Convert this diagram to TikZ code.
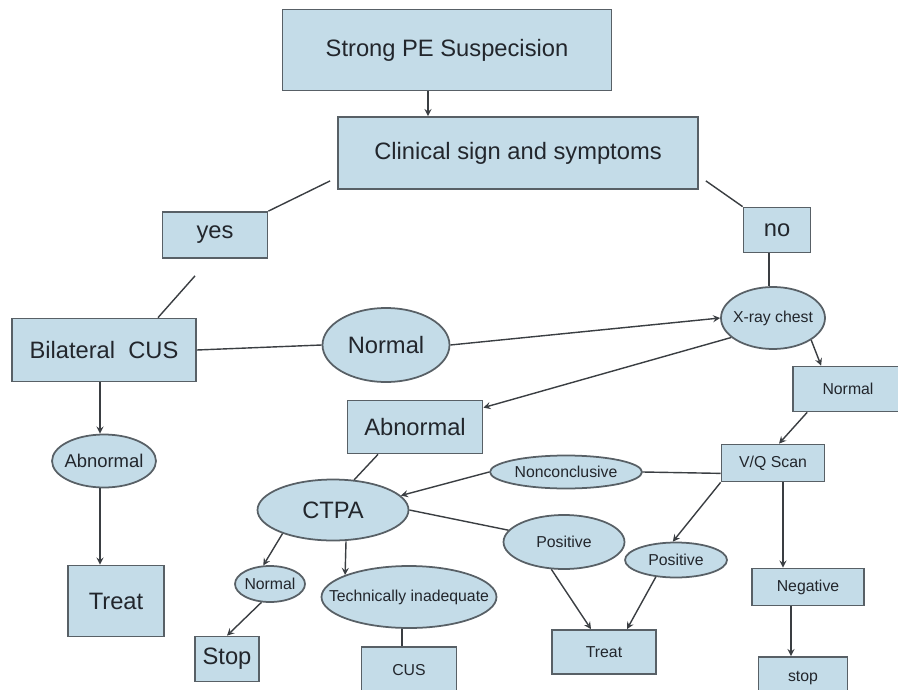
\documentclass[tikz,border=0pt]{standalone}
\usepackage{fontspec}
\setmainfont{Liberation Sans}
\usepackage{tikz}
\usetikzlibrary{shapes.geometric,arrows}

\definecolor{boxfill}{RGB}{196,220,232}
\definecolor{boxline}{RGB}{88,96,102}
\definecolor{inkgrey}{RGB}{34,38,44}
\definecolor{wirec}{RGB}{58,62,66}

\tikzset{
  pebox/.style={draw=boxline, fill=boxfill, line width=1pt, text=inkgrey, inner sep=0pt},
  peoval/.style={pebox, ellipse},
  bigtxt/.style={font=\fontsize{13.5}{16}\selectfont},
  smalltxt/.style={font=\fontsize{9}{11}\selectfont},
  wire/.style={draw=wirec, line width=0.8pt},
}

\begin{document}
\begin{tikzpicture}[x=0.02cm, y=-0.02cm, >=stealth]
  \useasboundingbox (0,0) rectangle (898,689);
  \clip (0,0) rectangle (898,689);

  % top of the chart
  \node[pebox, bigtxt, minimum width=6.58cm, minimum height=1.62cm] (strong) at (447,50) {Strong PE Suspecision};
  \node[pebox, bigtxt, minimum width=7.2cm, minimum height=1.44cm] (clin) at (518,153) {Clinical sign and symptoms};
  \node[pebox, bigtxt, minimum width=2.1cm, minimum height=0.92cm] (yes) at (215,235) {yes};
  \node[pebox, bigtxt, minimum width=1.34cm, minimum height=0.9cm] (no) at (777,230) {no};

  % left branch
  \node[pebox, bigtxt, minimum width=3.68cm, minimum height=1.26cm] (bcus) at (104,350) {Bilateral\ \ CUS};
  \node[peoval, font=\fontsize{10.5}{12}\selectfont, inner xsep=-0.06cm, minimum width=2.08cm, minimum height=1.06cm] (abnA) at (104,461) {Abnormal};
  \node[pebox, bigtxt, minimum width=1.92cm, minimum height=1.42cm] (treatA) at (116,601) {Treat};
  \node[peoval, bigtxt, minimum width=2.54cm, minimum height=1.48cm] (normA) at (386,345) {Normal};

  % x-ray branch
  \node[peoval, smalltxt, inner xsep=-0.08cm, minimum width=2.08cm, minimum height=1.24cm] (xray) at (773,318) {X-ray chest};
  \node[pebox, smalltxt, minimum width=2.2cm, minimum height=0.9cm] (normB) at (848,389) {Normal};
  \node[pebox, bigtxt, minimum width=2.7cm, minimum height=1.06cm] (abnB) at (415,427) {Abnormal};
  \node[pebox, smalltxt, minimum width=2.06cm, minimum height=0.74cm] (vq) at (773,463) {V/Q Scan};
  \node[peoval, smalltxt, minimum width=3.04cm, minimum height=0.66cm] (nonc) at (566,472) {Nonconclusive};

  % ctpa and outcomes
  \node[peoval, bigtxt, minimum width=3.02cm, minimum height=1.22cm] (ctpa) at (333,510) {CTPA};
  \node[peoval, smalltxt, minimum width=2.42cm, minimum height=1.08cm] (posA) at (564,542) {Positive};
  \node[peoval, smalltxt, minimum width=2.04cm, minimum height=0.7cm] (posB) at (676,560) {Positive};
  \node[pebox, smalltxt, minimum width=2.08cm, minimum height=0.88cm] (treatB) at (604,652) {Treat};
  \node[pebox, smalltxt, minimum width=2.24cm, minimum height=0.74cm] (neg) at (808,587) {Negative};
  \node[pebox, smalltxt, minimum width=1.78cm, minimum height=0.84cm] (stopB) at (803,678) {stop};
  \node[peoval, smalltxt, inner xsep=-0.37cm, minimum width=3.5cm, minimum height=1.24cm] (tech) at (409,597) {Technically inadequate};
  \node[pebox, smalltxt, minimum width=1.9cm, minimum height=0.92cm] (cus) at (409,670) {CUS};
  \node[peoval, smalltxt, inner xsep=-0.03cm, minimum width=1.4cm, minimum height=0.72cm] (normC) at (270,584) {Normal};
  \node[pebox, bigtxt, minimum width=1.28cm, minimum height=0.9cm] (stopA) at (227,659) {Stop};

  % plain links
  \draw[wire] ([shift={(-7,-9)}]clin.south west) -- (yes.north east);
  \draw[wire] ([shift={(-20,17)}]yes.south) -- ([shift={(54,0)}]bcus.north);
  \draw[wire] ([shift={(7,-9)}]clin.south east) -- (no.north west);
  \draw[wire] ([shift={(-8,0)}]no.south) -- ([shift={(-4,0)}]xray.north);
  \draw[wire] (bcus.east) -- (normA.west);
  \draw[wire] ([yshift=0.18cm]vq.south west) -- (nonc.east);
  \draw[wire] ([xshift=-0.74cm]abnB.south) -- (ctpa.55);
  \draw[wire] (ctpa.east) -- (posA.168);
  \draw[wire] ([xshift=-0.14cm]tech.south) -- ([xshift=-0.14cm]tech.south |- cus.north);

  % arrows
  \draw[wire, ->] ([xshift=-0.38cm]strong.south) -- ([xshift=-0.38cm]strong.south |- clin.north);
  \draw[wire, ->] (normA.east) -- (xray.west);
  \draw[wire, ->] (xray.-155) -- ([yshift=-0.16cm]abnB.north east);
  \draw[wire, ->] (xray.-30) -- ([xshift=0.58cm]normB.north west);
  \draw[wire, ->] ([xshift=0.3cm]normB.south west) -- ([xshift=0.12cm]vq.north);
  \draw[wire, ->] (nonc.west) -- (ctpa.12);
  \draw[wire, ->] (posA.-115) -- ([xshift=-0.26cm]treatB.north);
  \draw[wire, ->] (vq.south west) -- (posB.100);
  \draw[wire, ->] (posB.-140) -- ([xshift=0.46cm]treatB.north);
  \draw[wire, ->] ([xshift=0.2cm]vq.south) -- ([xshift=0.2cm]vq.south |- neg.north);
  \draw[wire, ->] ([xshift=-0.34cm]neg.south) -- ([xshift=-0.34cm]neg.south |- stopB.north);
  \draw[wire, ->] ([xshift=0.26cm]ctpa.south) -- (tech.161);
  \draw[wire, ->] (ctpa.-155) -- (normC.110);
  \draw[wire, ->] (normC.-115) -- (stopA.north);
  \draw[wire, ->] ([xshift=-0.08cm]bcus.south) -- ([xshift=-0.08cm]bcus.south |- abnA.north);
  \draw[wire, ->] ([xshift=-0.08cm]abnA.south) -- ([xshift=-0.08cm]abnA.south |- treatA.north);
\end{tikzpicture}
\end{document}
